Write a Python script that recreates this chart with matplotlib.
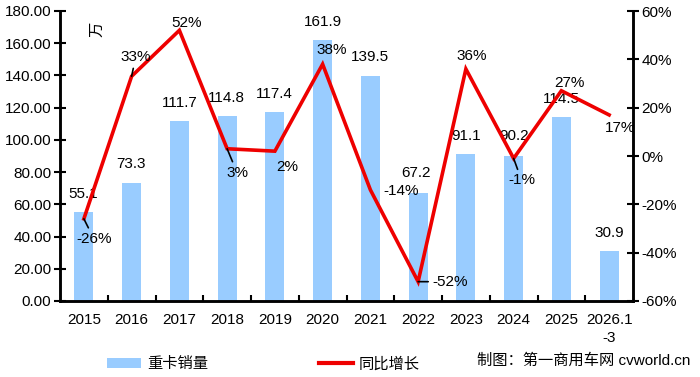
import numpy as np
import matplotlib
matplotlib.use("Agg")
import matplotlib.pyplot as plt
from matplotlib.patches import Patch
from matplotlib.lines import Line2D

plt.rcParams['font.family'] = ['Liberation Sans', 'Noto Sans CJK SC', 'DejaVu Sans']

# data
years = ['2015', '2016', '2017', '2018', '2019', '2020', '2021', '2022',
         '2023', '2024', '2025', '2026.1\n-3']
sales = [55.1, 73.3, 111.7, 114.8, 117.4, 161.9, 139.5, 67.2, 91.1, 90.2, 114.5, 30.9]
growth = [-26, 33, 52, 3, 2, 38, -14, -52, 36, -1, 27, 17]

# label offsets (pixels) for the percentage labels, and whether a leader line is drawn
pct_off = [(10, -20), (4, 19), (7, 7), (10, -24), (12, -16), (9, 14),
           (31, -1), (32, 0), (6, 13), (8, -22), (8, 8), (11, -13)]
pct_leader = [True, True, False, True, False, False,
              False, True, False, True, False, False]
val_off = [(-1, 18), (-1, 19), (0, 18), (-1, 18), (-1, 18), (0, 18),
           (0, 19), (-2, 20), (0, 18), (0, 20), (0, 18), (0, 18)]

bar_color = '#99CCFF'
line_color = '#EE0000'
fs = 11

fig = plt.figure(figsize=(7, 3.77), dpi=100)
ax = fig.add_axes([60/700, (377-301)/377, (633-60)/700, 290/377])
ax2 = ax.twinx()

x = np.arange(len(years))
ax.bar(x, sales, width=0.4, color=bar_color, zorder=1)
ax.set_xlim(-0.5, len(years) - 0.5)
ax.set_ylim(0, 180)
ax.set_yticks(np.arange(0, 181, 20))
ax.set_yticklabels(['%.2f' % v for v in np.arange(0, 181, 20)])

ax.set_xticks(x)
ax.set_xticklabels(years, linespacing=1.35)
ax.set_xticks(np.arange(0.5, len(years) - 1, 1), minor=True)
ax.tick_params(axis='x', which='major', length=0, pad=9, labelsize=fs)
ax.tick_params(axis='x', which='minor', direction='in', length=4.5, width=1.5)
ax.tick_params(axis='y', direction='inout', length=8.6, width=1.5, pad=2, labelsize=fs)

ax2.plot(x, growth, color=line_color, lw=2.6, zorder=3, solid_joinstyle='miter')
ax2.set_ylim(-60, 60)
ax2.set_yticks(np.arange(-60, 61, 20))
ax2.set_yticklabels(['%d%%' % v for v in np.arange(-60, 61, 20)])
ax2.tick_params(axis='y', direction='inout', length=8.6, width=1.5, pad=2, labelsize=fs)

for a in (ax, ax2):
    a.spines['top'].set_visible(False)
    a.spines['left'].set_linewidth(1.8)
    a.spines['right'].set_linewidth(1.8)
    a.spines['bottom'].set_linewidth(1.8)

# value labels on bars
for i, v in enumerate(sales):
    dx, dy = val_off[i]
    ax.annotate('%.1f' % v, (x[i], v), xytext=(dx, dy), textcoords='offset pixels',
                ha='center', va='center', fontsize=fs, zorder=5)

# percentage labels
for i, g in enumerate(growth):
    dx, dy = pct_off[i]
    props = dict(arrowstyle='-', color='black', lw=1.2, shrinkA=1, shrinkB=0) if pct_leader[i] else None
    ax2.annotate('%d%%' % g, (x[i], g), xytext=(dx, dy), textcoords='offset pixels',
                 ha='center', va='center', fontsize=fs, arrowprops=props, zorder=6)

# unit
ax.text(97/700, 1 - 29/377, '万', transform=fig.transFigure, rotation=90,
        ha='center', va='center', fontsize=fs)

# legend
handles = [Patch(facecolor=bar_color, edgecolor='none'),
           Line2D([0], [0], color=line_color, lw=3)]
fig.legend(handles, ['重卡销量', '同比增长'], loc='center left',
           bbox_to_anchor=(107/700, 1 - 364/377), ncol=2, frameon=False,
           fontsize=fs, handlelength=2.2, handleheight=0.6, handletextpad=0.4,
           columnspacing=7.3, borderpad=0, borderaxespad=0)

fig.text(690/700, 1 - 361/377, '制图：第一商用车网 cvworld.cn', ha='right', va='center',
         fontsize=fs)

fig.savefig('out.png', dpi=100)
